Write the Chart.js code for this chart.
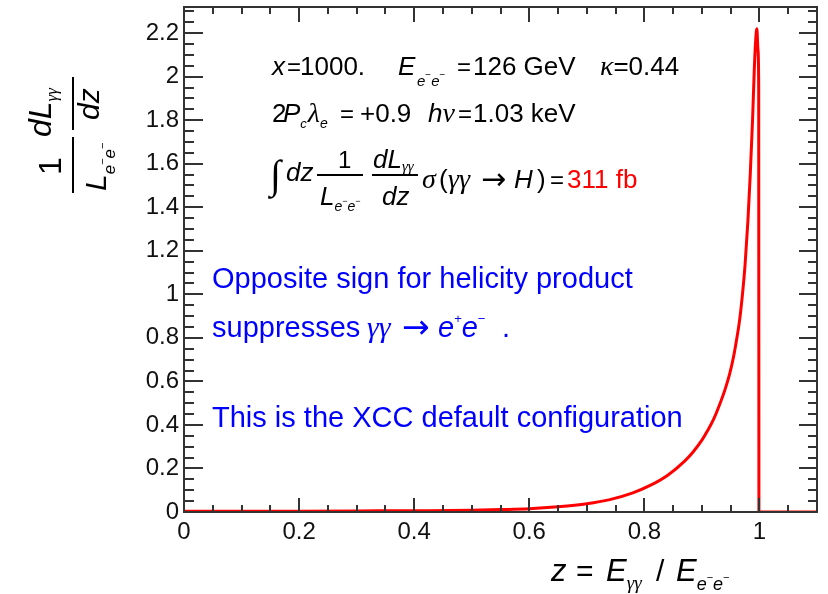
<!DOCTYPE html>
<html><head><meta charset="utf-8">
<script src="https://cdn.jsdelivr.net/npm/chart.js@4.4.0/dist/chart.umd.min.js"></script>
<style>html,body{margin:0;padding:0;background:#fff;overflow:hidden}#c{display:block}</style>
</head><body>
<canvas id="c" width="828" height="594"></canvas>
<script>
// z = E_gg / E_ee and (1/L) dL/dz
const zValues   = [0, 0.1, 0.2, 0.3, 0.4, 0.5, 0.55, 0.6, 0.65, 0.7, 0.74, 0.78, 0.81, 0.84, 0.87, 0.885, 0.90, 0.91, 0.92, 0.93, 0.94, 0.948, 0.955, 0.96, 0.965, 0.97, 0.975, 0.98, 0.984, 0.988, 0.991, 0.9935, 0.9955, 0.9975, 0.9987, 0.9991, 1.02, 1.1];
const lumValues = [0.003, 0.003, 0.004, 0.005, 0.006, 0.008, 0.011, 0.015, 0.024, 0.038, 0.057, 0.088, 0.122, 0.168, 0.234, 0.277, 0.330, 0.374, 0.424, 0.488, 0.561, 0.632, 0.713, 0.788, 0.871, 0.987, 1.135, 1.34, 1.55, 1.80, 2.03, 2.17, 2.22, 2.12, 1.95, 0.0, 0.0, 0.0];
const xRange = [0, 1.1];
const yRange = [0, 2.32];
const majorStep = 0.2;
const minorStep = 0.05;

const SANS = '"Liberation Sans", Arial, sans-serif';
const SERIF = '"Liberation Serif", "Times New Roman", serif';
const fmt = v => String(Number(v.toFixed(2)));

function seq(ctx, x, y, parts) {
  for (const p of parts) {
    if (p.x !== undefined) x = p.x;
    ctx.font = p.f;
    ctx.fillStyle = p.c || '#000';
    ctx.fillText(p.t, x, y + (p.dy || 0));
    x += ctx.measureText(p.t).width + (p.g || 0);
  }
  return x;
}
const sans = s => s + 'px ' + SANS;
const isans = s => 'italic ' + s + 'px ' + SANS;
const iserif = s => 'italic ' + s + 'px ' + SERIF;
const serif = s => s + 'px ' + SERIF;
const arrowFont = s => s + 'px "DejaVu Sans ExtraLight", "DejaVu Sans", sans-serif';

function seg(ctx, x1, y1, x2, y2) {
  ctx.beginPath(); ctx.moveTo(x1, y1); ctx.lineTo(x2, y2); ctx.stroke();
}

const framePlugin = {
  id: 'frame',
  afterDatasetsDraw(chart) {
    const ctx = chart.ctx;
    const a = chart.chartArea;
    const xs = chart.scales.x, ys = chart.scales.y;
    ctx.save();
    ctx.strokeStyle = '#333333';
    ctx.lineWidth = 2;
    const nY = Math.floor((yRange[1] + 1e-9) / minorStep);
    for (let i = 0; i <= nY; i++) {
      const py = Math.round(ys.getPixelForValue(i * minorStep));
      const major = (i % 4) === 0;
      seg(ctx, a.left, py, a.left + (major ? 19 : 10), py);
      seg(ctx, a.right, py, a.right - (major ? 18 : 9), py);
    }
    const nX = Math.floor((xRange[1] + 1e-9) / minorStep);
    for (let i = 0; i <= nX; i++) {
      const px = Math.round(xs.getPixelForValue(i * minorStep));
      const major = (i % 4) === 0;
      seg(ctx, px, a.bottom, px, a.bottom - (major ? 14 : 7));
      seg(ctx, px, a.top, px, a.top + (major ? 15 : 7));
    }
    ctx.strokeRect(a.left, a.top, a.right - a.left, a.bottom - a.top);
    ctx.restore();
  },
  afterDraw(chart) {
    const ctx = chart.ctx;
    ctx.save();
    ctx.textBaseline = 'alphabetic';
    ctx.textAlign = 'left';
    // line 1
    seq(ctx, 272, 75, [
      {t: 'x', f: isans(26)},
      {x: 287, t: '=', f: sans(24)},
      {x: 300, t: '1000.', f: sans(26)},
      {x: 398, t: 'E', f: isans(26)},
      {x: 417, t: 'e', f: isans(15), dy: 11},
      {t: '\u2212', f: sans(10), dy: 3},
      {t: 'e', f: isans(15), dy: 11},
      {t: '\u2212', f: sans(10), dy: 3},
      {x: 457, t: '=', f: sans(24)},
      {x: 473, t: '126 GeV', f: sans(26)},
      {x: 600, t: '\u03BA', f: iserif(28)},
      {t: '=0.44', f: sans(26)}
    ]);
    // line 2
    seq(ctx, 272, 122, [
      {t: '2', f: sans(26)},
      {x: 283, t: 'P', f: isans(26)},
      {t: 'c', f: isans(13), dy: 6, g: 1},
      {t: '\u03BB', f: iserif(28)},
      {t: 'e', f: isans(14), dy: 6},
      {x: 340, t: '=', f: sans(24)},
      {x: 360, t: '+0.9', f: sans(26)},
      {x: 428, t: 'h', f: isans(26)},
      {t: '\u03BD', f: iserif(28)},
      {x: 458, t: '=', f: sans(24)},
      {x: 473, t: '1.03 keV', f: sans(26)}
    ]);
    // line 3: integral
    seq(ctx, 270, 188, [{t: '\u222B', f: serif(40)}]);
    seq(ctx, 286, 181, [{t: 'dz', f: isans(26)}]);
    ctx.fillStyle = '#000';
    ctx.fillRect(317, 174, 46, 2);
    ctx.fillRect(372, 174, 46, 2);
    seq(ctx, 338, 168, [{t: '1', f: sans(24)}]);
    seq(ctx, 320, 205, [
      {t: 'L', f: isans(26)},
      {t: 'e', f: isans(14), dy: 6},
      {t: '\u2212', f: sans(9), dy: -1},
      {t: 'e', f: isans(14), dy: 6},
      {t: '\u2212', f: sans(9), dy: -1}
    ]);
    seq(ctx, 373, 168, [
      {t: 'dL', f: isans(26)},
      {t: '\u03B3\u03B3', f: iserif(15), dy: 3}
    ]);
    seq(ctx, 382, 205, [{t: 'dz', f: isans(26)}]);
    seq(ctx, 422, 188, [
      {t: '\u03C3', f: iserif(28)},
      {x: 439, t: '(', f: sans(26)},
      {x: 448, t: '\u03B3\u03B3', f: iserif(28)},
      {x: 481, t: '\u2192', f: arrowFont(30), dy: 1},
      {x: 514, t: 'H', f: isans(26)},
      {x: 537, t: ')', f: sans(26)},
      {x: 550, t: '=', f: sans(24)},
      {x: 567, t: '311 fb', f: sans(26), c: '#ff0000'}
    ]);
    // blue annotations
    const B = '#0000ff';
    seq(ctx, 212, 288, [{t: 'Opposite sign for helicity product', f: sans(29), c: B}]);
    seq(ctx, 212, 337, [
      {t: 'suppresses', f: sans(29), c: B},
      {x: 367, t: '\u03B3\u03B3', f: iserif(30), c: B},
      {x: 402, t: '\u2192', f: arrowFont(33), c: B, dy: 1},
      {x: 438, t: 'e', f: isans(29), c: B},
      {t: '+', f: sans(13), dy: -14, c: B},
      {t: 'e', f: isans(29), c: B},
      {t: '\u2212', f: sans(13), dy: -14, c: B},
      {x: 502, t: '.', f: sans(29), c: B}
    ]);
    seq(ctx, 212, 427, [{t: 'This is the XCC default configuration', f: sans(29), c: B}]);
    // x-axis title
    seq(ctx, 551, 581, [
      {t: 'z', f: isans(31)},
      {x: 576, t: '=', f: sans(30)},
      {x: 606, t: 'E', f: isans(31)},
      {t: '\u03B3\u03B3', f: iserif(19), dy: 8},
      {x: 656, t: '/', f: sans(30)},
      {x: 676, t: 'E', f: isans(31)},
      {t: 'e', f: isans(18), dy: 9},
      {t: '\u2212', f: sans(11), dy: 0},
      {t: 'e', f: isans(18), dy: 9},
      {t: '\u2212', f: sans(11), dy: 0}
    ]);
    // y-axis title (rotated)
    ctx.translate(73, 138);
    ctx.rotate(-Math.PI / 2);
    ctx.fillStyle = '#000';
    ctx.fillRect(-55, -1, 56, 2);
    ctx.fillRect(8, -1, 53, 2);
    ctx.textAlign = 'center';
    seq(ctx, -28, -12, [{t: '1', f: sans(32)}]);
    ctx.textAlign = 'left';
    seq(ctx, -53, 33, [
      {t: 'L', f: isans(30)},
      {t: 'e', f: isans(17), dy: 9},
      {t: '\u2212', f: sans(11), dy: 0},
      {t: 'e', f: isans(17), dy: 9},
      {t: '\u2212', f: sans(11), dy: 0}
    ]);
    seq(ctx, 1, -22, [
      {t: 'dL', f: isans(32)},
      {t: '\u03B3\u03B3', f: iserif(17), dy: 6}
    ]);
    seq(ctx, 18, 26, [{t: 'dz', f: isans(30)}]);
    ctx.restore();
  }
};

new Chart(document.getElementById('c'), {
  type: 'line',
  data: {
    datasets: [{
      data: zValues.map((z, i) => ({x: z, y: lumValues[i]})),
      borderColor: '#ff0000',
      borderWidth: 3,
      pointRadius: 0,
      fill: false,
      cubicInterpolationMode: 'monotone'
    }]
  },
  options: {
    responsive: false,
    animation: false,
    layout: {padding: {left: 0, top: 7, right: 11, bottom: 0}},
    plugins: {legend: {display: false}, tooltip: {enabled: false}},
    scales: {
      x: {
        type: 'linear', min: xRange[0], max: xRange[1],
        grid: {display: false, drawTicks: false}, border: {display: false},
        ticks: {stepSize: majorStep, includeBounds: false, autoSkip: false, maxRotation: 0,
          font: {family: SANS, size: 24}, color: '#111', padding: 6, callback: fmt},
        afterFit(s) { s.height = 82; s.paddingLeft = 0; s.paddingRight = 0; }
      },
      y: {
        type: 'linear', min: yRange[0], max: yRange[1],
        grid: {display: false, drawTicks: false}, border: {display: false},
        ticks: {stepSize: majorStep, includeBounds: false, autoSkip: false,
          font: {family: SANS, size: 24}, color: '#111', padding: 5, callback: fmt},
        afterFit(s) { s.width = 184; s.paddingTop = 0; s.paddingBottom = 0; }
      }
    }
  },
  plugins: [framePlugin]
});
</script>
</body></html>
